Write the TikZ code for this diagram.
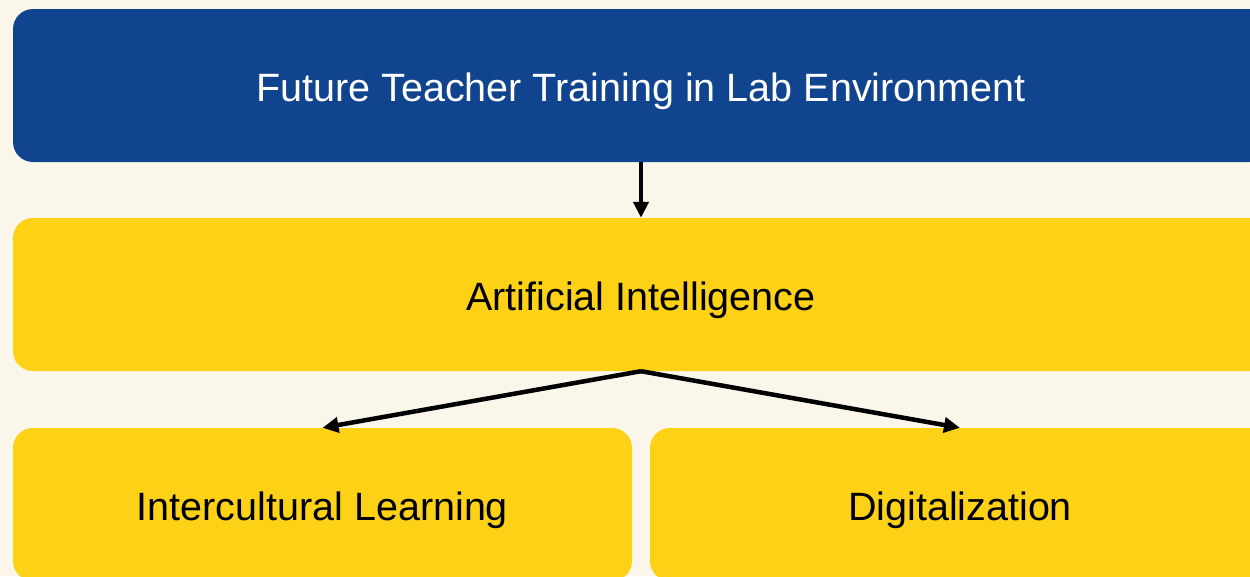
\documentclass[tikz,border=0pt]{standalone}
\usepackage{fontspec}
\setmainfont{Liberation Sans}
\usetikzlibrary{arrows.meta}
\definecolor{bgcream}{RGB}{250,247,234}
\definecolor{topblue}{RGB}{16,68,143}
\definecolor{boxyellow}{RGB}{252,209,22}
\tikzset{
  box/.style={rounded corners=20pt, inner sep=0pt, font=\fontsize{39.5}{47}\selectfont, minimum height=153pt, text height=31pt, text depth=0pt},
  bluebox/.style={box, fill=topblue, text=white},
  yellowbox/.style={box, fill=boxyellow, text=black},
  conn/.style={line width=4.5pt, -{Triangle[length=16pt,width=15pt]}}
}
\begin{document}
\begin{tikzpicture}[x=1pt,y=-1pt]
\useasboundingbox (0,0) rectangle (1250,576);
\fill[bgcream] (0,0) rectangle (1250,576);
\begin{scope}
\clip (0,0) rectangle (1250,576);
\node[bluebox, minimum width=1256pt] (top) at (641,85.5) {Future Teacher Training in Lab Environment};
\node[yellowbox, minimum width=1256pt] (mid) at (641,294.5) {Artificial Intelligence};
\node[yellowbox, minimum width=619pt] (left) at (322.5,504.5) {Intercultural Learning};
\node[yellowbox, minimum width=620pt] (right) at (960,504.5) {Digitalization};
\draw[conn] (top.south) -- (mid.north);
\draw[conn] (mid.south) -- (left.north);
\draw[conn] (mid.south) -- (right.north);
\end{scope}
\end{tikzpicture}
\end{document}
